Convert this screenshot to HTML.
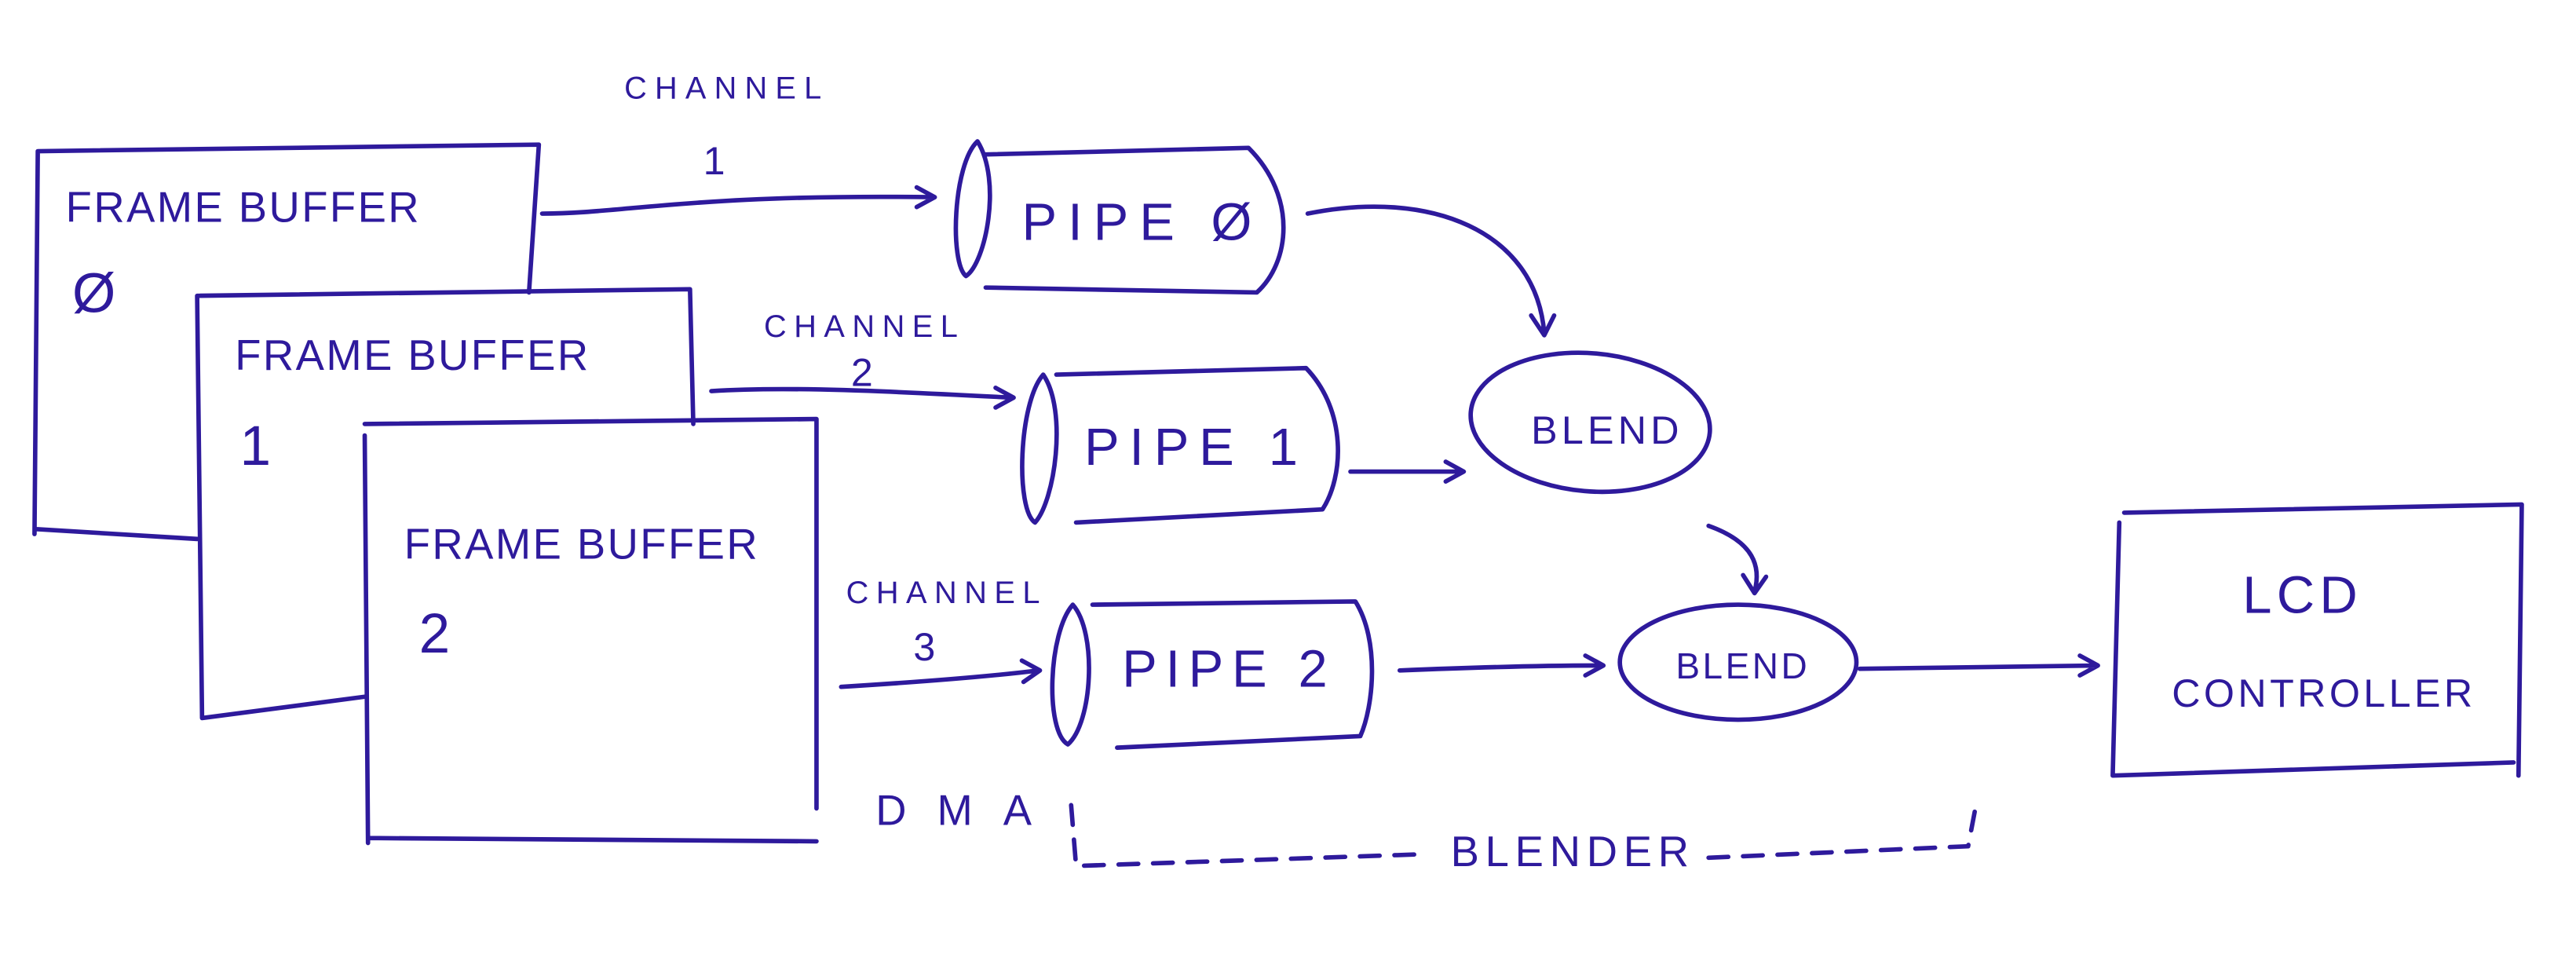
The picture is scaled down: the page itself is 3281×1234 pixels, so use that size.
<!DOCTYPE html>
<html><head><style>html,body{margin:0;padding:0;background:#fff;width:3281px;height:1234px;overflow:hidden}</style></head>
<body>
<svg width="3281" height="1234" viewBox="0 0 1568 589.7" preserveAspectRatio="none" xmlns="http://www.w3.org/2000/svg">
<g fill="none" stroke="#2e1a9c" stroke-width="2.7" stroke-linecap="round" stroke-linejoin="round">
<path d="M23,92 L328,88 M328,88 L322,178 M23,92 L21,325 M22,322 L120,328"/>
<path d="M120,180 L420,176 L422,258 M120,180 L123,437 L222,424"/>
<path d="M222,258 L497,255 L497,492 M222,265 L224,513 M224,510 L497,512"/>
<path d="M330,130 C380,130 420,118 568,120 M558,114 L569,120 L558,126"/>
<path d="M433,238 C480,235 540,238 616,242 M606,236 L617,242 L606,248"/>
<path d="M512,418 C560,415 600,412 632,408 M622,402 L633,408 L623,415"/>
<path d="M595,86 C580,100 578,160 588,168 C600,160 610,110 595,86 Z"/>
<path d="M600,94 L760,90 C790,120 785,160 765,178 L600,175"/>
<path d="M635,228 C620,245 618,310 630,318 C642,305 650,250 635,228 Z"/>
<path d="M643,228 L795,224 C820,250 818,290 805,310 L655,318"/>
<path d="M653,368 C638,385 636,445 650,453 C665,440 668,385 653,368 Z"/>
<path d="M665,368 L825,366 C840,390 836,430 828,448 L680,455"/>
<ellipse cx="968" cy="257" rx="73" ry="42" transform="rotate(5 968 257)"/>
<ellipse cx="1058" cy="403" rx="72" ry="35"/>
<path d="M796,130 C870,115 935,140 940,203 M932,192 L940,204 L946,192"/>
<path d="M822,287 L890,287 M880,281 L891,287 L880,293"/>
<path d="M1040,320 C1068,330 1072,345 1068,360 M1061,350 L1068,361 L1075,351"/>
<path d="M852,408 C900,406 940,405 975,405 M965,399 L976,405 L965,411"/>
<path d="M1132,407 L1276,405 M1266,399 L1277,405 L1266,411"/>
<path d="M1293,312 L1535,307 L1533,472 M1290,318 L1286,472 L1530,464"/>
<path d="M652,490 L655,527 L862,520" stroke-dasharray="12,9"/>
<path d="M1040,522 L1198,515 L1202,494" stroke-dasharray="12,9"/>
</g>
<g fill="#2e1a9c" font-family="Liberation Sans, sans-serif">
<text x="40" y="135" font-size="26" textLength="215">FRAME BUFFER</text>
<text x="44" y="190" font-size="34">Ø</text>
<text x="143" y="225" font-size="26" textLength="215">FRAME BUFFER</text>
<text x="146" y="283" font-size="34">1</text>
<text x="246" y="340" font-size="26" textLength="215">FRAME BUFFER</text>
<text x="255" y="397" font-size="34">2</text>
<text x="380" y="60" font-size="19" textLength="120">CHANNEL</text>
<text x="428" y="106" font-size="24">1</text>
<text x="465" y="205" font-size="19" textLength="118">CHANNEL</text>
<text x="518" y="235" font-size="24">2</text>
<text x="515" y="367" font-size="19" textLength="118">CHANNEL</text>
<text x="556" y="402" font-size="24">3</text>
<text x="622" y="146" font-size="32" textLength="140">PIPE Ø</text>
<text x="660" y="283" font-size="32" textLength="130">PIPE 1</text>
<text x="683" y="418" font-size="32" textLength="125">PIPE 2</text>
<text x="932" y="270" font-size="24" textLength="90">BLEND</text>
<text x="1020" y="413" font-size="22" textLength="80">BLEND</text>
<text x="1365" y="373" font-size="32" textLength="70">LCD</text>
<text x="1322" y="430" font-size="24" textLength="183">CONTROLLER</text>
<text x="533" y="502" font-size="26" textLength="95">DMA</text>
<text x="883" y="527" font-size="26" textLength="145">BLENDER</text>
</g>
</svg>
</body></html>
